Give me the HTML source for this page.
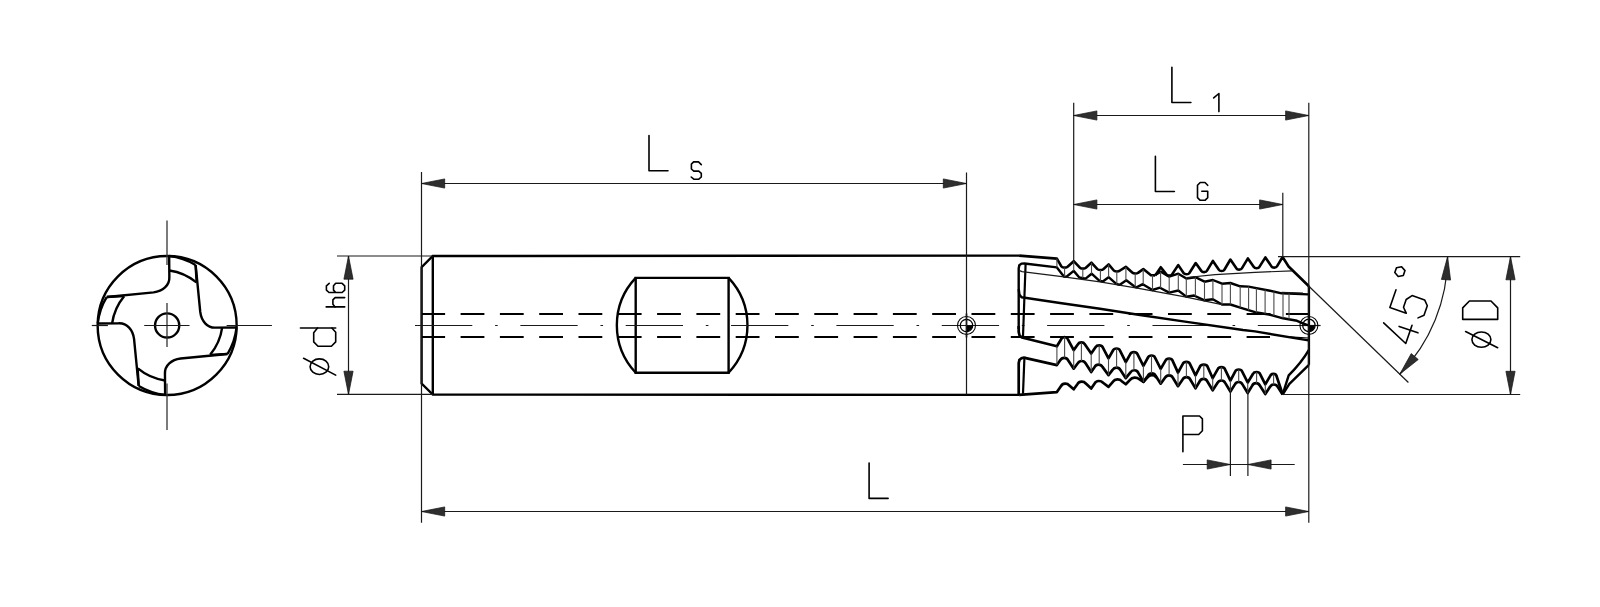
<!DOCTYPE html>
<html><head><meta charset="utf-8"><title>Thread mill drawing</title>
<style>
html,body{margin:0;padding:0;background:#fff;font-family:"Liberation Sans",sans-serif;}
svg{display:block}
</style></head><body>
<svg width="1600" height="607" viewBox="0 0 1600 607">
<rect width="1600" height="607" fill="#fff"/>
<circle cx="167.15" cy="325.45" r="69.5" stroke="#000" stroke-width="2.4" fill="none"/>
<circle cx="167.15" cy="325.45" r="12.1" stroke="#000" stroke-width="2.4" fill="none"/>
<g transform="rotate(0 167.15 325.45)">
<path d="M169.15,256.05 L169.35,276.95 C169.75,285.45 162.65,291.25 153.65,292.35 L106.85,296.95" stroke="#000" stroke-width="2.4" fill="none" stroke-linejoin="round"/>
<path d="M169.35,270.45 A54,54 0 0 1 196.45,282.45" stroke="#000" stroke-width="2.4" fill="none" />
<path d="M195.55,264.95 L196.65,282.45" stroke="#000" stroke-width="2.4" fill="none" />
<path d="M169.15,256.05 A64,64 0 0 1 195.55,264.95" stroke="#000" stroke-width="2.4" fill="none" />
</g>
<g transform="rotate(90 167.15 325.45)">
<path d="M169.15,256.05 L169.35,276.95 C169.75,285.45 162.65,291.25 153.65,292.35 L106.85,296.95" stroke="#000" stroke-width="2.4" fill="none" stroke-linejoin="round"/>
<path d="M169.35,270.45 A54,54 0 0 1 196.45,282.45" stroke="#000" stroke-width="2.4" fill="none" />
<path d="M195.55,264.95 L196.65,282.45" stroke="#000" stroke-width="2.4" fill="none" />
<path d="M169.15,256.05 A64,64 0 0 1 195.55,264.95" stroke="#000" stroke-width="2.4" fill="none" />
</g>
<g transform="rotate(180 167.15 325.45)">
<path d="M169.15,256.05 L169.35,276.95 C169.75,285.45 162.65,291.25 153.65,292.35 L106.85,296.95" stroke="#000" stroke-width="2.4" fill="none" stroke-linejoin="round"/>
<path d="M169.35,270.45 A54,54 0 0 1 196.45,282.45" stroke="#000" stroke-width="2.4" fill="none" />
<path d="M195.55,264.95 L196.65,282.45" stroke="#000" stroke-width="2.4" fill="none" />
<path d="M169.15,256.05 A64,64 0 0 1 195.55,264.95" stroke="#000" stroke-width="2.4" fill="none" />
</g>
<g transform="rotate(270 167.15 325.45)">
<path d="M169.15,256.05 L169.35,276.95 C169.75,285.45 162.65,291.25 153.65,292.35 L106.85,296.95" stroke="#000" stroke-width="2.4" fill="none" stroke-linejoin="round"/>
<path d="M169.35,270.45 A54,54 0 0 1 196.45,282.45" stroke="#000" stroke-width="2.4" fill="none" />
<path d="M195.55,264.95 L196.65,282.45" stroke="#000" stroke-width="2.4" fill="none" />
<path d="M169.15,256.05 A64,64 0 0 1 195.55,264.95" stroke="#000" stroke-width="2.4" fill="none" />
</g>
<line x1="167.00" y1="220.60" x2="167.00" y2="265.10" stroke="#333" stroke-width="1.3" />
<line x1="167.00" y1="303.00" x2="167.00" y2="347.10" stroke="#333" stroke-width="1.3" />
<line x1="167.00" y1="383.40" x2="167.00" y2="429.90" stroke="#333" stroke-width="1.3" />
<line x1="91.80" y1="325.50" x2="107.90" y2="325.50" stroke="#1a1a1a" stroke-width="1.2" />
<line x1="144.20" y1="325.50" x2="189.50" y2="325.50" stroke="#1a1a1a" stroke-width="1.2" />
<line x1="226.60" y1="325.50" x2="271.90" y2="325.50" stroke="#1a1a1a" stroke-width="1.2" />
<path d="M1019.10,255.60 L432.80,256.00 L421.60,267.20 L421.60,383.60 L432.80,394.60 L1019.10,394.90" stroke="#000" stroke-width="2.4" fill="none" stroke-linejoin="miter"/>
<line x1="432.80" y1="256.00" x2="432.80" y2="394.60" stroke="#000" stroke-width="2.4" />
<path d="M635.70,277.90 L728.60,277.90 L728.60,372.70 L635.70,372.70 Z" stroke="#000" stroke-width="2.4" fill="none" />
<path d="M635.7,277.9 A69,69 0 0 0 635.7,372.7" stroke="#000" stroke-width="2.4" fill="none" />
<path d="M728.6,277.9 A69,69 0 0 1 728.6,372.7" stroke="#000" stroke-width="2.4" fill="none" />
<line x1="421.3" y1="313.9" x2="1308.5" y2="313.9" stroke="#000" stroke-width="2.0" stroke-dasharray="23.8 15.5"/>
<line x1="421.3" y1="337.0" x2="1270" y2="337.0" stroke="#000" stroke-width="2.0" stroke-dasharray="23.8 15.5"/>
<line x1="415" y1="325.5" x2="1320.5" y2="325.5" stroke="#1a1a1a" stroke-width="1.2" stroke-dasharray="57.3 22.8 2.6 22.65"/>
<line x1="1300.00" y1="325.50" x2="1320.60" y2="325.50" stroke="#1a1a1a" stroke-width="1.2" />
<path d="M1019.10,255.60 L1056.90,258.60 L1061.50,266.56 C1062.10,267.94 1066.70,267.94 1067.59,266.79 L1073.70,261.20 L1079.88,267.73 C1080.70,268.89 1085.00,268.89 1085.88,267.78 L1091.40,262.60 L1097.39,269.12 C1098.20,270.29 1102.40,270.29 1103.29,269.20 L1108.60,264.40 L1113.82,270.49 C1114.60,271.70 1118.60,271.70 1119.61,270.75 L1125.80,266.80 L1132.50,272.71 C1133.40,273.76 1137.00,273.76 1137.98,272.81 L1143.30,269.10 L1151.00,275.20 L1155.20,275.40" stroke="#000" stroke-width="2.6" fill="none" stroke-linejoin="round"/>
<path d="M1155.20,275.40 L1160.80,267.20 L1166.57,274.65 C1167.30,275.91 1171.20,275.91 1171.87,274.61 L1178.30,265.10 L1183.73,273.20 C1184.40,274.53 1188.60,274.53 1189.24,273.19 L1195.70,263.00 L1201.50,271.12 C1202.20,272.42 1206.10,272.42 1206.72,271.07 L1212.90,260.90 L1219.03,270.00 C1219.70,271.33 1223.60,271.33 1224.21,269.97 L1230.40,259.50 L1236.53,268.60 C1237.20,269.93 1241.10,269.93 1241.72,268.57 L1247.90,258.40 L1254.02,267.21 C1254.70,268.53 1258.60,268.53 1259.24,267.18 L1265.40,257.40 L1271.63,266.61 C1272.30,267.93 1276.20,267.93 1276.82,266.57 L1282.60,257.00 L1288.60,266.50 L1308.90,286.30" stroke="#000" stroke-width="2.6" fill="none" stroke-linejoin="round"/>
<path d="M1155.20,274.90 L1160.80,271.60 L1169.20,276.60 L1178.30,273.70 L1186.30,278.60 L1195.40,277.20 L1204.50,281.70 L1212.90,280.00 L1222.00,283.70 L1230.40,283.00 L1240.20,286.30 L1248.60,286.60 L1255.00,287.90 L1270.00,290.70 L1281.60,293.30 L1308.20,294.40" stroke="#000" stroke-width="2.4" fill="none" stroke-linejoin="round"/>
<line x1="1281.60" y1="292.30" x2="1303.00" y2="293.20" stroke="#1a1a1a" stroke-width="1.2" />
<path d="M1187.00,277.50 L1215.00,274.60 L1255.00,272.30 L1292.10,270.90" stroke="#1a1a1a" stroke-width="1.2" fill="none" />
<path d="M1018.70,329.00 L1018.70,268.50 L1019.30,265.20 L1021.50,263.60 L1024.50,263.50 L1056.90,267.40 L1063.90,276.50 L1066.50,276.70 L1073.70,270.90 L1079.30,277.50 L1085.60,278.60 L1091.60,273.70 L1099.00,280.40 L1102.50,281.70 L1108.60,277.20 L1116.00,283.60 L1119.50,284.90 L1126.30,280.30 L1134.20,286.30 L1136.50,287.30 L1142.80,284.20 L1152.40,290.00 L1160.00,287.70 L1169.20,292.60 L1178.30,290.50 L1186.30,296.60 L1194.00,295.50 L1204.50,300.30 L1212.90,299.30 L1222.00,304.50 L1230.40,304.50 L1240.20,307.70 L1255.00,312.20 L1269.00,314.50 L1283.00,318.30 L1297.00,320.80 L1303.00,323.30 L1308.90,325.50" stroke="#000" stroke-width="2.4" fill="none" stroke-linejoin="round"/>
<path d="M1025.60,264.00 L1023.00,336.50" stroke="#000" stroke-width="2.2" fill="none" />
<path d="M1019.60,270.60 L1022.00,271.60 L1060.00,276.30 L1100.00,281.90 L1140.00,288.60 L1185.00,296.90 L1222.00,304.70" stroke="#1a1a1a" stroke-width="1.2" fill="none" />
<line x1="1056.90" y1="258.60" x2="1056.90" y2="267.40" stroke="#4a4a4a" stroke-width="1.1" />
<line x1="1064.60" y1="267.60" x2="1064.60" y2="276.55" stroke="#4a4a4a" stroke-width="1.1" />
<line x1="1073.70" y1="261.20" x2="1073.70" y2="270.90" stroke="#4a4a4a" stroke-width="1.1" />
<line x1="1082.80" y1="268.60" x2="1082.80" y2="278.11" stroke="#4a4a4a" stroke-width="1.1" />
<line x1="1091.50" y1="262.71" x2="1091.50" y2="273.78" stroke="#4a4a4a" stroke-width="1.1" />
<line x1="1100.40" y1="270.00" x2="1100.40" y2="280.92" stroke="#4a4a4a" stroke-width="1.1" />
<line x1="1108.60" y1="264.40" x2="1108.60" y2="277.20" stroke="#4a4a4a" stroke-width="1.1" />
<line x1="1116.80" y1="271.40" x2="1116.80" y2="283.90" stroke="#4a4a4a" stroke-width="1.1" />
<line x1="1125.90" y1="266.89" x2="1125.90" y2="280.57" stroke="#4a4a4a" stroke-width="1.1" />
<line x1="1135.20" y1="273.50" x2="1135.20" y2="286.73" stroke="#4a4a4a" stroke-width="1.1" />
<line x1="1143.20" y1="269.17" x2="1143.20" y2="284.44" stroke="#4a4a4a" stroke-width="1.1" />
<line x1="1152.50" y1="275.27" x2="1152.50" y2="289.97" stroke="#4a4a4a" stroke-width="1.1" />
<line x1="1160.60" y1="271.74" x2="1160.60" y2="288.02" stroke="#4a4a4a" stroke-width="1.1" />
<line x1="1169.20" y1="276.60" x2="1169.20" y2="292.60" stroke="#4a4a4a" stroke-width="1.1" />
<line x1="1178.30" y1="273.70" x2="1178.30" y2="290.50" stroke="#4a4a4a" stroke-width="1.1" />
<line x1="1186.30" y1="278.60" x2="1186.30" y2="296.60" stroke="#4a4a4a" stroke-width="1.1" />
<line x1="1195.40" y1="277.20" x2="1195.40" y2="296.14" stroke="#4a4a4a" stroke-width="1.1" />
<line x1="1204.50" y1="281.70" x2="1204.50" y2="300.30" stroke="#4a4a4a" stroke-width="1.1" />
<line x1="1212.90" y1="280.00" x2="1212.90" y2="299.30" stroke="#4a4a4a" stroke-width="1.1" />
<line x1="1222.00" y1="283.70" x2="1222.00" y2="304.50" stroke="#4a4a4a" stroke-width="1.1" />
<line x1="1230.40" y1="283.00" x2="1230.40" y2="304.50" stroke="#4a4a4a" stroke-width="1.1" />
<line x1="1240.20" y1="286.30" x2="1240.20" y2="307.70" stroke="#4a4a4a" stroke-width="1.1" />
<line x1="1248.60" y1="286.60" x2="1248.60" y2="310.25" stroke="#4a4a4a" stroke-width="1.1" />
<line x1="1256.40" y1="288.16" x2="1256.40" y2="312.43" stroke="#4a4a4a" stroke-width="1.1" />
<line x1="1265.10" y1="289.79" x2="1265.10" y2="313.86" stroke="#4a4a4a" stroke-width="1.1" />
<line x1="1273.90" y1="291.57" x2="1273.90" y2="315.83" stroke="#4a4a4a" stroke-width="1.1" />
<line x1="1283.00" y1="293.36" x2="1283.00" y2="318.30" stroke="#4a4a4a" stroke-width="1.1" />
<line x1="1289.00" y1="293.61" x2="1289.00" y2="319.37" stroke="#4a4a4a" stroke-width="1.1" />
<path d="M1018.70,289.00 L1019.40,294.50 L1021.50,297.20 L1060.00,303.00 L1100.00,308.80 L1140.00,315.00 L1185.00,321.60 L1243.00,330.00 L1255.00,331.40 L1308.50,340.40" stroke="#000" stroke-width="2.4" fill="none" stroke-linejoin="round"/>
<path d="M1290.00,336.80 L1308.20,338.00" stroke="#000" stroke-width="1.2" fill="none" />
<path d="M1018.70,326.00 L1018.70,332.00 L1019.60,335.60 L1021.90,337.50 L1056.90,346.30 L1061.46,338.81 C1062.50,336.54 1066.70,336.54 1067.65,338.86 L1073.70,350.10 L1078.12,344.02 C1079.30,341.87 1083.50,341.87 1084.63,344.05 L1091.20,353.60 L1095.67,347.05 C1096.80,344.85 1101.70,344.85 1102.63,347.17 L1108.50,358.40 L1113.12,350.24 C1114.10,347.93 1119.00,347.93 1119.89,350.29 L1125.80,362.10 L1130.42,353.94 C1131.40,351.63 1136.40,351.63 1137.32,353.98 L1143.40,365.80 L1148.13,357.25 C1149.10,354.92 1154.00,354.92 1154.89,357.29 L1160.70,368.90 L1165.61,360.34 C1166.60,358.03 1171.60,358.03 1172.43,360.42 L1178.00,372.60 L1182.94,363.56 C1183.90,361.22 1188.90,361.22 1189.77,363.60 L1195.50,375.40 L1200.09,366.38 C1201.00,364.01 1206.60,364.01 1207.42,366.42 L1212.70,378.20 L1217.92,368.85 C1218.90,366.52 1223.90,366.52 1224.76,368.90 L1230.40,380.70 L1235.28,371.28 C1236.20,368.91 1241.20,368.91 1242.09,371.29 L1247.70,382.50 L1253.06,373.71 C1254.10,371.44 1259.10,371.44 1259.99,373.79 L1265.30,384.40 L1270.40,375.63 C1271.40,373.33 1275.80,373.33 1276.43,375.80 L1282.60,394.30" stroke="#000" stroke-width="2.7" fill="none" stroke-linejoin="round"/>
<path d="M1018.70,394.90 L1018.70,363.00 L1019.50,359.80 L1019.37,359.91 C1021.50,357.50 1024.30,357.20 1027.03,358.41 L1056.90,365.10 L1060.36,360.10 C1061.95,357.04 1066.55,357.04 1068.09,360.14 L1073.70,368.70 L1077.77,363.24 C1079.45,360.26 1084.05,360.26 1085.57,363.35 L1091.20,372.10 L1094.65,366.93 C1096.20,363.83 1100.80,363.83 1102.46,366.86 L1108.50,375.10 L1112.57,369.90 C1114.30,366.97 1118.90,366.97 1120.44,370.04 L1125.80,378.20 L1130.45,372.39 C1132.20,369.48 1136.80,369.48 1138.18,372.64 L1143.40,381.90 L1147.87,375.67 C1149.50,372.65 1154.10,372.65 1155.61,375.76 L1160.70,383.70 L1165.15,377.57 C1166.80,374.55 1171.40,374.55 1172.85,377.70 L1178.00,386.20 L1182.62,379.41 C1184.20,376.34 1188.80,376.34 1190.23,379.51 L1195.50,388.40 L1199.76,381.30 C1201.20,378.11 1205.80,378.11 1207.25,381.30 L1212.70,390.30 L1217.57,382.84 C1219.10,379.73 1223.70,379.73 1225.16,382.89 L1230.40,391.50 L1234.90,384.37 C1236.40,381.22 1241.00,381.22 1242.46,384.39 L1247.70,393.00 L1252.24,385.59 C1253.70,382.41 1258.30,382.41 1259.82,385.55 L1265.30,394.00 L1270.05,386.83 C1271.60,383.73 1276.20,383.73 1277.71,386.86 L1282.60,394.50" stroke="#000" stroke-width="2.7" fill="none" stroke-linejoin="round"/>
<path d="M1024.40,358.30 L1023.00,393.80" stroke="#000" stroke-width="2.2" fill="none" />
<path d="M1019.10,394.90 L1056.90,392.10 L1061.07,386.01 C1062.65,382.94 1067.25,382.94 1069.36,385.54 L1073.70,389.30 L1077.56,383.97 C1079.20,380.95 1083.80,380.95 1085.85,383.61 L1091.20,388.60 L1094.65,383.43 C1096.20,380.33 1100.80,380.33 1103.05,382.77 L1108.50,386.80 L1113.05,381.61 C1114.90,378.81 1119.50,378.81 1121.73,381.20 L1125.80,384.30 L1130.27,379.62 C1132.20,376.93 1136.80,376.93 1139.15,379.13 L1143.40,381.90 L1147.56,377.36 C1149.45,374.62 1154.05,374.52 1156.05,377.16 L1156.50,377.60" stroke="#000" stroke-width="2.7" fill="none" stroke-linejoin="round"/>
<line x1="1056.90" y1="346.30" x2="1056.90" y2="365.10" stroke="#4a4a4a" stroke-width="1.1" />
<line x1="1064.60" y1="337.10" x2="1064.60" y2="357.80" stroke="#4a4a4a" stroke-width="1.1" />
<line x1="1073.70" y1="350.10" x2="1073.70" y2="368.70" stroke="#4a4a4a" stroke-width="1.1" />
<line x1="1081.40" y1="342.40" x2="1081.40" y2="361.00" stroke="#4a4a4a" stroke-width="1.1" />
<line x1="1091.20" y1="353.60" x2="1091.20" y2="372.10" stroke="#4a4a4a" stroke-width="1.1" />
<line x1="1099.20" y1="345.40" x2="1099.20" y2="364.60" stroke="#4a4a4a" stroke-width="1.1" />
<line x1="1108.50" y1="358.40" x2="1108.50" y2="375.10" stroke="#4a4a4a" stroke-width="1.1" />
<line x1="1116.60" y1="348.50" x2="1116.60" y2="367.70" stroke="#4a4a4a" stroke-width="1.1" />
<line x1="1125.80" y1="362.10" x2="1125.80" y2="378.20" stroke="#4a4a4a" stroke-width="1.1" />
<line x1="1133.90" y1="352.20" x2="1133.90" y2="370.20" stroke="#4a4a4a" stroke-width="1.1" />
<line x1="1143.40" y1="365.80" x2="1143.40" y2="381.90" stroke="#4a4a4a" stroke-width="1.1" />
<line x1="1151.50" y1="355.50" x2="1151.50" y2="373.40" stroke="#4a4a4a" stroke-width="1.1" />
<line x1="1160.70" y1="368.90" x2="1160.70" y2="383.70" stroke="#4a4a4a" stroke-width="1.1" />
<line x1="1169.10" y1="358.60" x2="1169.10" y2="375.30" stroke="#4a4a4a" stroke-width="1.1" />
<line x1="1178.00" y1="372.60" x2="1178.00" y2="386.20" stroke="#4a4a4a" stroke-width="1.1" />
<line x1="1186.40" y1="361.80" x2="1186.40" y2="377.10" stroke="#4a4a4a" stroke-width="1.1" />
<line x1="1195.50" y1="375.40" x2="1195.50" y2="388.40" stroke="#4a4a4a" stroke-width="1.1" />
<line x1="1203.80" y1="364.60" x2="1203.80" y2="378.90" stroke="#4a4a4a" stroke-width="1.1" />
<line x1="1212.70" y1="378.20" x2="1212.70" y2="390.30" stroke="#4a4a4a" stroke-width="1.1" />
<line x1="1221.40" y1="367.10" x2="1221.40" y2="380.50" stroke="#4a4a4a" stroke-width="1.1" />
<line x1="1230.40" y1="380.70" x2="1230.40" y2="391.50" stroke="#4a4a4a" stroke-width="1.1" />
<line x1="1238.70" y1="369.50" x2="1238.70" y2="382.00" stroke="#4a4a4a" stroke-width="1.1" />
<line x1="1247.70" y1="382.50" x2="1247.70" y2="393.00" stroke="#4a4a4a" stroke-width="1.1" />
<line x1="1256.60" y1="372.00" x2="1256.60" y2="383.20" stroke="#4a4a4a" stroke-width="1.1" />
<line x1="1265.30" y1="384.40" x2="1265.30" y2="394.00" stroke="#4a4a4a" stroke-width="1.1" />
<line x1="1273.60" y1="373.90" x2="1273.60" y2="384.50" stroke="#4a4a4a" stroke-width="1.1" />
<line x1="1308.90" y1="286.30" x2="1308.90" y2="364.80" stroke="#000" stroke-width="2.4" />
<path d="M1308.90,364.80 L1289.40,383.90 L1282.60,394.50" stroke="#000" stroke-width="2.4" fill="none" stroke-linejoin="round"/>
<path d="M1308.9,349.8 C1303,360 1296,368 1288.7,375.3 L1282.6,394.5" stroke="#000" stroke-width="2.4" fill="none" stroke-linejoin="round"/>
<circle cx="966.5" cy="325.5" r="9.0" stroke="#000" stroke-width="1.05" fill="none"/>
<circle cx="966.5" cy="325.5" r="6.2" stroke="#000" stroke-width="1.25" fill="none"/>
<path d="M966.5,325.5 L972.5,325.5 A6.0,6.0 0 0 1 966.5,331.5 Z" fill="#000"/>
<line x1="966.50" y1="313.50" x2="966.50" y2="337.50" stroke="#000" stroke-width="1.6" />
<circle cx="1308.9" cy="325.4" r="9.0" stroke="#000" stroke-width="1.05" fill="none"/>
<circle cx="1308.9" cy="325.4" r="6.2" stroke="#000" stroke-width="1.25" fill="none"/>
<path d="M1308.9,325.4 L1314.9,325.4 A6.0,6.0 0 0 1 1308.9,331.4 Z" fill="#000"/>
<line x1="1308.90" y1="313.40" x2="1308.90" y2="337.40" stroke="#000" stroke-width="1.6" />
<line x1="421.50" y1="172.00" x2="421.50" y2="522.70" stroke="#1a1a1a" stroke-width="1.2" />
<line x1="966.50" y1="172.50" x2="966.50" y2="394.50" stroke="#1a1a1a" stroke-width="1.2" />
<line x1="1073.70" y1="102.80" x2="1073.70" y2="260.50" stroke="#1a1a1a" stroke-width="1.2" />
<line x1="1308.80" y1="102.80" x2="1308.80" y2="522.80" stroke="#1a1a1a" stroke-width="1.2" />
<line x1="1282.80" y1="192.70" x2="1282.80" y2="256.50" stroke="#1a1a1a" stroke-width="1.2" />
<line x1="421.50" y1="183.50" x2="966.50" y2="183.50" stroke="#1a1a1a" stroke-width="1.2" />
<polygon points="421.50,183.50 444.70,188.10 444.70,178.90" fill="#2e2e2e" stroke="#111" stroke-width="0.7" stroke-linejoin="miter"/>
<polygon points="966.50,183.50 943.30,178.90 943.30,188.10" fill="#2e2e2e" stroke="#111" stroke-width="0.7" stroke-linejoin="miter"/>
<line x1="1073.70" y1="115.50" x2="1308.80" y2="115.50" stroke="#1a1a1a" stroke-width="1.2" />
<polygon points="1073.70,115.50 1096.90,120.10 1096.90,110.90" fill="#2e2e2e" stroke="#111" stroke-width="0.7" stroke-linejoin="miter"/>
<polygon points="1308.80,115.50 1285.60,110.90 1285.60,120.10" fill="#2e2e2e" stroke="#111" stroke-width="0.7" stroke-linejoin="miter"/>
<line x1="1073.70" y1="204.50" x2="1282.80" y2="204.50" stroke="#1a1a1a" stroke-width="1.2" />
<polygon points="1073.70,204.50 1096.90,209.10 1096.90,199.90" fill="#2e2e2e" stroke="#111" stroke-width="0.7" stroke-linejoin="miter"/>
<polygon points="1282.80,204.50 1259.60,199.90 1259.60,209.10" fill="#2e2e2e" stroke="#111" stroke-width="0.7" stroke-linejoin="miter"/>
<line x1="421.50" y1="511.50" x2="1308.80" y2="511.50" stroke="#1a1a1a" stroke-width="1.2" />
<polygon points="421.50,511.50 444.70,516.10 444.70,506.90" fill="#2e2e2e" stroke="#111" stroke-width="0.7" stroke-linejoin="miter"/>
<polygon points="1308.80,511.50 1285.60,506.90 1285.60,516.10" fill="#2e2e2e" stroke="#111" stroke-width="0.7" stroke-linejoin="miter"/>
<line x1="1230.40" y1="391.50" x2="1230.40" y2="476.00" stroke="#1a1a1a" stroke-width="1.2" />
<line x1="1247.90" y1="393.00" x2="1247.90" y2="476.00" stroke="#1a1a1a" stroke-width="1.2" />
<line x1="1182.90" y1="464.50" x2="1294.70" y2="464.50" stroke="#1a1a1a" stroke-width="1.2" />
<polygon points="1230.40,464.50 1207.20,459.90 1207.20,469.10" fill="#2e2e2e" stroke="#111" stroke-width="0.7" stroke-linejoin="miter"/>
<polygon points="1247.90,464.50 1271.10,469.10 1271.10,459.90" fill="#2e2e2e" stroke="#111" stroke-width="0.7" stroke-linejoin="miter"/>
<line x1="337.00" y1="256.00" x2="432.80" y2="256.00" stroke="#1a1a1a" stroke-width="1.2" />
<line x1="337.00" y1="394.40" x2="432.80" y2="394.40" stroke="#1a1a1a" stroke-width="1.2" />
<line x1="348.50" y1="256.00" x2="348.50" y2="394.40" stroke="#1a1a1a" stroke-width="1.2" />
<polygon points="348.50,256.00 343.90,279.20 353.10,279.20" fill="#2e2e2e" stroke="#111" stroke-width="0.7" stroke-linejoin="miter"/>
<polygon points="348.50,394.40 353.10,371.20 343.90,371.20" fill="#2e2e2e" stroke="#111" stroke-width="0.7" stroke-linejoin="miter"/>
<line x1="1278.00" y1="256.60" x2="1520.20" y2="256.60" stroke="#1a1a1a" stroke-width="1.2" />
<line x1="1282.60" y1="394.50" x2="1520.20" y2="394.50" stroke="#1a1a1a" stroke-width="1.2" />
<line x1="1510.50" y1="256.60" x2="1510.50" y2="394.50" stroke="#1a1a1a" stroke-width="1.2" />
<polygon points="1510.50,256.60 1505.90,279.80 1515.10,279.80" fill="#2e2e2e" stroke="#111" stroke-width="0.7" stroke-linejoin="miter"/>
<polygon points="1510.50,394.50 1515.10,371.30 1505.90,371.30" fill="#2e2e2e" stroke="#111" stroke-width="0.7" stroke-linejoin="miter"/>
<line x1="1308.90" y1="286.30" x2="1408.40" y2="382.50" stroke="#1a1a1a" stroke-width="1.2" />
<path d="M1447.60,256.60 A168.4,168.4 0 0 1 1399.72,374.21" stroke="#1a1a1a" stroke-width="1.2" fill="none"/>
<polygon points="1447.60,256.60 1441.41,279.43 1450.59,280.06" fill="#2e2e2e" stroke="#111" stroke-width="0.7" stroke-linejoin="miter"/>
<polygon points="1399.72,374.21 1418.25,359.51 1411.24,353.55" fill="#2e2e2e" stroke="#111" stroke-width="0.7" stroke-linejoin="miter"/>
<g transform="translate(649.00,170.80) rotate(0) scale(1,-1)" stroke="#000" stroke-width="1.6" fill="none" stroke-linecap="round" stroke-linejoin="round">
<path d="M0.00,35.30 L0.00,0.00 L19.00,0.00"/>
</g>
<g transform="translate(691.20,179.20) rotate(0) scale(1,-1)" stroke="#000" stroke-width="1.6" fill="none" stroke-linecap="round" stroke-linejoin="round">
<path d="M10.10,14.60 L7.30,17.30 L2.40,17.30 L0.20,15.10 L0.20,10.20 L2.60,8.10 L7.60,8.10 L10.10,5.90 L10.10,2.20 L7.60,0.00 L2.60,0.00 L0.00,2.20"/>
</g>
<g transform="translate(1171.90,102.50) rotate(0) scale(1,-1)" stroke="#000" stroke-width="1.6" fill="none" stroke-linecap="round" stroke-linejoin="round">
<path d="M0.00,35.30 L0.00,0.00 L19.00,0.00"/>
</g>
<g transform="translate(1213.70,111.60) rotate(0) scale(1,-1)" stroke="#000" stroke-width="1.6" fill="none" stroke-linecap="round" stroke-linejoin="round">
<path d="M0.00,13.70 L5.20,18.10 L5.20,0.00"/>
</g>
<g transform="translate(1155.40,191.50) rotate(0) scale(1,-1)" stroke="#000" stroke-width="1.6" fill="none" stroke-linecap="round" stroke-linejoin="round">
<path d="M0.00,35.30 L0.00,0.00 L19.00,0.00"/>
</g>
<g transform="translate(1197.50,200.30) rotate(0) scale(1,-1)" stroke="#000" stroke-width="1.6" fill="none" stroke-linecap="round" stroke-linejoin="round">
<path d="M10.20,15.00 L7.50,17.80 L2.70,17.80 L0.00,15.00 L0.00,2.60 L2.70,0.00 L7.50,0.00 L10.20,2.60 L10.20,9.10 L4.30,9.10"/>
</g>
<g transform="translate(869.10,498.40) rotate(0) scale(1,-1)" stroke="#000" stroke-width="1.6" fill="none" stroke-linecap="round" stroke-linejoin="round">
<path d="M0.00,35.30 L0.00,0.00 L19.00,0.00"/>
</g>
<g transform="translate(1182.90,451.80) rotate(0) scale(1,-1)" stroke="#000" stroke-width="1.6" fill="none" stroke-linecap="round" stroke-linejoin="round">
<path d="M0.00,0.00 L0.00,35.80 L16.60,35.80 L19.50,33.00 L19.50,21.00 L15.80,17.30 L0.00,17.30"/>
</g>
<g transform="translate(335.70,346.20) rotate(-90) scale(1,-1)" stroke="#000" stroke-width="1.6" fill="none" stroke-linecap="round" stroke-linejoin="round">
<path d="M18.20,0.00 L18.20,35.30"/>
<path d="M18.20,18.20 L13.40,22.00 L4.30,22.00 L0.00,17.70 L0.00,4.30 L4.30,0.00 L13.90,0.00 L18.20,3.80"/>
</g>
<ellipse cx="319.4" cy="366.7" rx="9.3" ry="7.8" stroke="#000" stroke-width="1.6" fill="none"/>
<line x1="303.60" y1="358.30" x2="335.70" y2="375.10" stroke="#000" stroke-width="1.6" stroke-linecap="round"/>
<g transform="translate(344.70,306.90) rotate(-90) scale(1,-1)" stroke="#000" stroke-width="1.6" fill="none" stroke-linecap="round" stroke-linejoin="round">
<path d="M0.00,0.00 L0.00,18.50"/>
<path d="M0.00,9.60 L2.60,11.80 L7.00,11.80 L9.30,9.60 L9.30,0.00"/>
</g>
<g transform="translate(344.70,292.50) rotate(-90) scale(1,-1)" stroke="#000" stroke-width="1.6" fill="none" stroke-linecap="round" stroke-linejoin="round">
<path d="M9.20,15.50 L6.70,18.30 L2.40,18.30 L0.00,15.70 L0.00,2.60 L2.40,0.00 L6.70,0.00 L9.20,2.60 L9.20,9.00 L6.70,11.20 L2.40,11.20 L0.00,9.00"/>
</g>
<path d="M1462.70,319.40 L1462.70,307.90 L1469.40,301.00 L1491.00,301.00 L1497.70,307.90 L1497.70,319.40 L1462.70,319.40" stroke="#000" stroke-width="1.6" fill="none" stroke-linejoin="round" stroke-linecap="round"/>
<ellipse cx="1481.4" cy="339.6" rx="9.5" ry="7.65" stroke="#000" stroke-width="1.6" fill="none"/>
<line x1="1465.60" y1="331.50" x2="1497.70" y2="347.70" stroke="#000" stroke-width="1.6" stroke-linecap="round"/>
<g transform="translate(1413.40,346.10) rotate(-71) scale(1,-1)" stroke="#000" stroke-width="1.6" fill="none" stroke-linecap="round" stroke-linejoin="round">
<path d="M12.30,35.70 L0.00,8.10 L19.30,8.10"/>
<path d="M14.00,19.90 L14.00,0.00"/>
</g>
<g transform="translate(1422.78,318.87) rotate(-71) scale(1,-1)" stroke="#000" stroke-width="1.6" fill="none" stroke-linecap="round" stroke-linejoin="round">
<path d="M18.80,34.80 L0.00,34.80 L0.00,17.50 L4.70,22.00 L12.90,22.00 L18.50,17.70 L18.50,4.40 L13.90,0.00 L3.80,0.00 L-0.60,4.80"/>
</g>
<path d="M1401.59,266.68 L1405.00,270.61 L1403.31,275.52 L1398.21,276.52 L1394.80,272.59 L1396.49,267.68 Z" stroke="#000" stroke-width="1.6" fill="none" stroke-linejoin="round"/>
</svg>
</body></html>
